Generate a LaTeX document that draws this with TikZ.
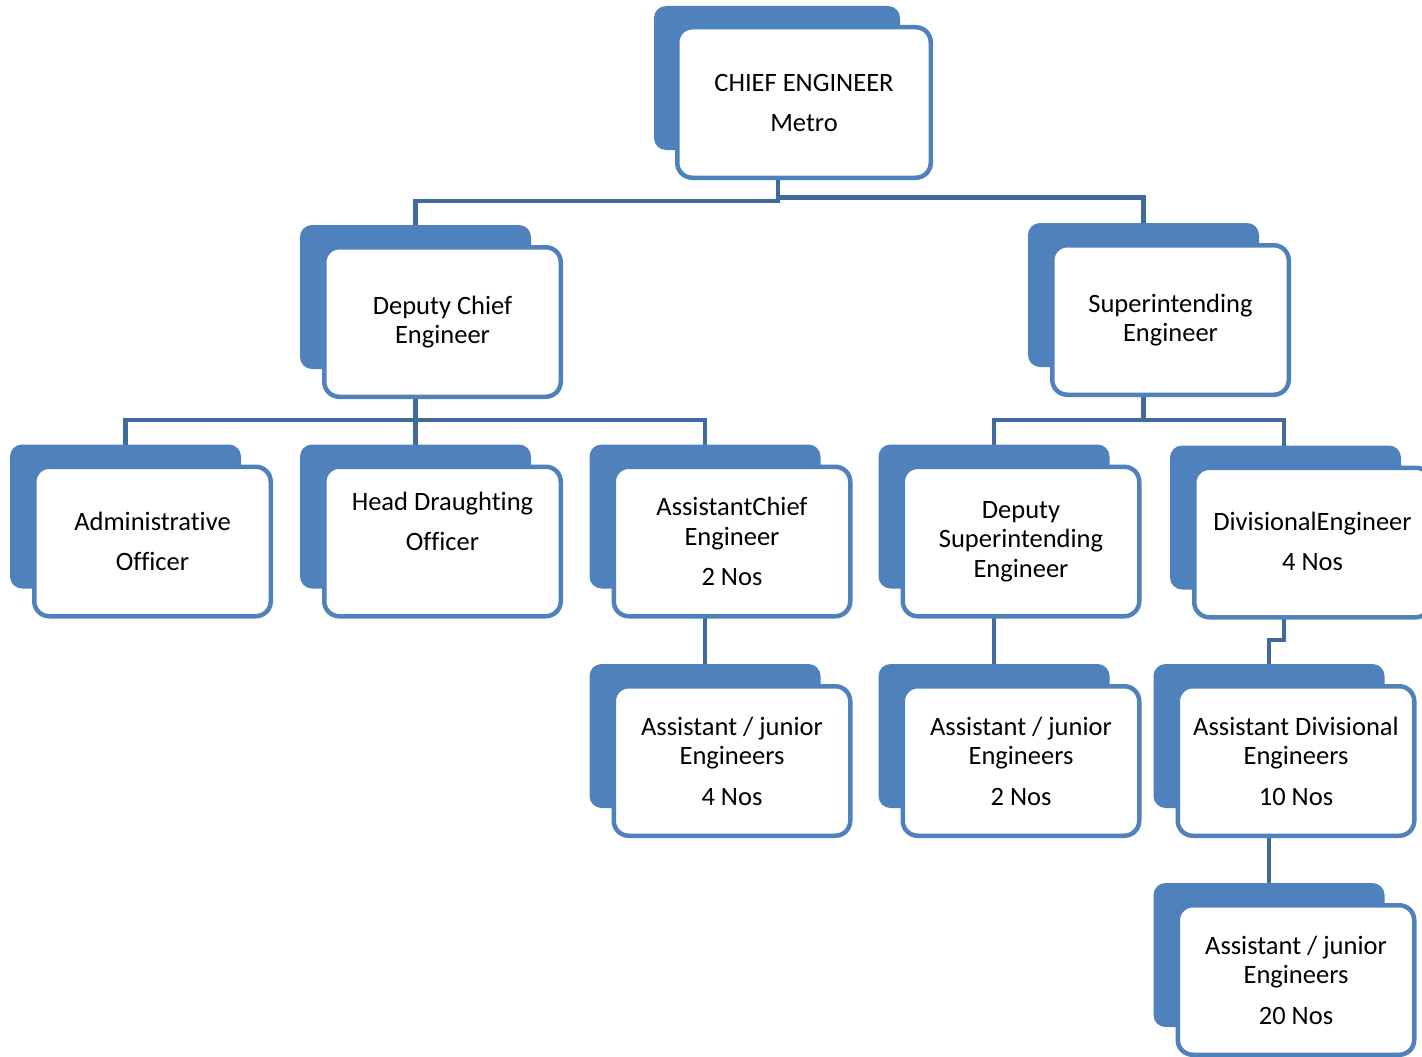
\documentclass[tikz,border=0pt]{standalone}
\usepackage{fontspec}
\setmainfont{Carlito}[Ligatures=NoCommon]
\usetikzlibrary{calc}
\definecolor{boxblue}{RGB}{79,129,189}
\definecolor{linkblue}{RGB}{64,105,156}
\tikzset{
  backbox/.style={fill=boxblue, draw=none, rounded corners=12pt, minimum width=231pt, minimum height=144pt, inner sep=0pt},
  frontbox/.style={fill=white, draw=boxblue, line width=4.5pt, rounded corners=15pt, minimum width=236.5pt, minimum height=149.5pt, inner sep=0pt},
  txt/.style={align=center, font=\fontsize{26.5}{29.5}\selectfont, inner sep=0pt},
  conn/.style={draw=linkblue, line width=4.5pt}
}
\newcommand\orgbox[5]{%
  \node[backbox] at (#2-27,#3-25) {};
  \node[frontbox] (#1) at (#2,#3) {};
  \node[txt] (#1-text) at (#2,#3+#5) {#4};
}
\begin{document}
\begin{tikzpicture}[x=1pt,y=-1pt]
\clip (0,0) rectangle (1422,1057);
\fill[white] (0,0) rectangle (1422,1057);
% attachment coordinates
\coordinate (chief-b) at (778,178);
\coordinate (dc-t) at (415.5,247);
\coordinate (dc-b) at (415.5,397);
\coordinate (sup-t) at (1143.5,245);
\coordinate (sup-b) at (1143.5,395);
\coordinate (adm-t) at (125.5,467);
\coordinate (hd-t) at (415.5,467);
\coordinate (ac-t) at (705,467);
\coordinate (ac-b) at (705,617);
\coordinate (ds-t) at (994,467);
\coordinate (ds-b) at (994,617);
\coordinate (div-t) at (1284,468);
\coordinate (div-b) at (1284,615);
\coordinate (aj4-t) at (705,686);
\coordinate (aj2-t) at (994,686);
\coordinate (ad-t) at (1269,686);
\coordinate (ad-b) at (1269,836);
\coordinate (aj20-t) at (1269,906);
% connectors
\draw[conn] (chief-b) -- ++(0,23) -| (dc-t);
\draw[conn] (chief-b) -- ++(0,19.5) -| (sup-t);
\draw[conn] (dc-b) -- ++(0,23) -| (adm-t);
\draw[conn] (dc-b) -- ++(0,23) -| (ac-t);
\draw[conn] (dc-b) -- (hd-t);
\draw[conn] (sup-b) -- ++(0,25) -| (ds-t);
\draw[conn] (sup-b) -- ++(0,25) -| (div-t);
\draw[conn] (ac-b) -- (aj4-t);
\draw[conn] (ds-b) -- (aj2-t);
\draw[conn] (div-b) -- ++(0,25) -| (ad-t);
\draw[conn] (ad-b) -- (aj20-t);
% chief box
\node[backbox, minimum width=246pt] at (777,78) {};
\node[frontbox, minimum width=253.5pt, minimum height=150.5pt] (chief) at (804,102.5) {};
\node[txt] (chief-text) at (804,103) {CHIEF ENGINEER\\[11pt]Metro};
% level 2
\orgbox{dc}{442.5}{322}{Deputy Chief\\Engineer}{0}
\orgbox{sup}{1170.5}{320}{Superintending\\Engineer}{0}
% level 3
\orgbox{adm}{152.5}{541.5}{Administrative\\[11pt]Officer}{0}
\orgbox{hd}{442.5}{541.5}{Head Draughting\\[11pt]Officer}{-20}
\orgbox{ac}{732}{541.5}{AssistantChief\\Engineer\\[11pt]2 Nos}{0}
\orgbox{ds}{1021}{541.5}{Deputy\\Superintending\\Engineer}{0}
\orgbox{div}{1312.5}{542.5}{DivisionalEngineer\\[11pt]4 Nos}{-1}
% level 4
\orgbox{aj4}{732}{761}{Assistant / junior\\Engineers\\[11pt]4 Nos}{0}
\orgbox{aj2}{1021}{761}{Assistant / junior\\Engineers\\[11pt]2 Nos}{0}
\orgbox{ad}{1296}{761}{Assistant Divisional\\Engineers\\[11pt]10 Nos}{0}
% level 5
\orgbox{aj20}{1296}{980}{Assistant / junior\\Engineers\\[11pt]20 Nos}{0}
\end{tikzpicture}
\end{document}
